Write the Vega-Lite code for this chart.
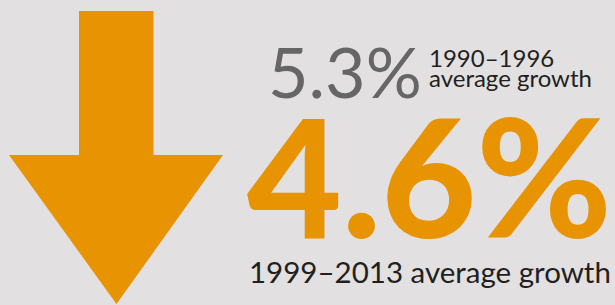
{
  "$schema": "https://vega.github.io/schema/vega-lite/v6.json",
  "width": 615,
  "height": 305,
  "padding": 0,
  "autosize": {"type": "fit", "contains": "padding"},
  "background": "#e2e0e1",
  "config": {"view": {"stroke": null}},
  "layer": [
    {
      "data": {"values": [{"x": 79, "x2": 153.5, "y": 11, "y2": 156}]},
      "mark": {"type": "rect", "color": "#e89302"},
      "encoding": {
        "x": {"field": "x", "type": "quantitative", "scale": {"domain": [0, 615], "nice": false, "zero": false}, "axis": null},
        "x2": {"field": "x2"},
        "y": {"field": "y", "type": "quantitative", "scale": {"domain": [0, 305], "nice": false, "zero": false, "reverse": true}, "axis": null},
        "y2": {"field": "y2"}
      }
    },
    {
      "data": {"values": [
        {"x": 9, "yb": 155, "yt": 155},
        {"x": 116.5, "yb": 304, "yt": 155},
        {"x": 223, "yb": 155, "yt": 155}
      ]},
      "mark": {"type": "area", "color": "#e89302", "interpolate": "linear"},
      "encoding": {
        "x": {"field": "x", "type": "quantitative", "scale": {"domain": [0, 615], "nice": false, "zero": false}, "axis": null},
        "y": {"field": "yb", "type": "quantitative", "scale": {"domain": [0, 305], "nice": false, "zero": false, "reverse": true}, "axis": null, "stack": null},
        "y2": {"field": "yt"}
      }
    },
    {
      "data": {"values": [{"label": "5.3%", "x": 268, "y": 98}]},
      "mark": {"type": "text", "align": "left", "baseline": "alphabetic", "font": "Lato", "fontSize": 70, "fontWeight": 400, "color": "#666666"},
      "encoding": {
        "x": {"field": "x", "type": "quantitative", "scale": {"domain": [0, 615], "nice": false, "zero": false}, "axis": null},
        "y": {"field": "y", "type": "quantitative", "scale": {"domain": [0, 305], "nice": false, "zero": false, "reverse": true}, "axis": null},
        "text": {"field": "label"}
      }
    },
    {
      "data": {"values": [{"label": "1990–1996", "x": 429, "y": 67}, {"label": "average growth", "x": 429, "y": 87}]},
      "mark": {"type": "text", "align": "left", "baseline": "alphabetic", "font": "Lato", "fontSize": 24, "fontWeight": 400, "color": "#231f20"},
      "encoding": {
        "x": {"field": "x", "type": "quantitative", "scale": {"domain": [0, 615], "nice": false, "zero": false}, "axis": null},
        "y": {"field": "y", "type": "quantitative", "scale": {"domain": [0, 305], "nice": false, "zero": false, "reverse": true}, "axis": null},
        "text": {"field": "label"}
      }
    },
    {
      "data": {"values": [{"label": "4.6%", "x": 247, "y": 238}]},
      "mark": {"type": "text", "align": "left", "baseline": "alphabetic", "font": "Lato", "fontSize": 164, "fontWeight": 900, "color": "#e89302"},
      "encoding": {
        "x": {"field": "x", "type": "quantitative", "scale": {"domain": [0, 615], "nice": false, "zero": false}, "axis": null},
        "y": {"field": "y", "type": "quantitative", "scale": {"domain": [0, 305], "nice": false, "zero": false, "reverse": true}, "axis": null},
        "text": {"field": "label"}
      }
    },
    {
      "data": {"values": [{"label": "1999–2013 average growth", "x": 249, "y": 283}]},
      "mark": {"type": "text", "align": "left", "baseline": "alphabetic", "font": "Lato", "fontSize": 29.5, "fontWeight": 400, "color": "#231f20"},
      "encoding": {
        "x": {"field": "x", "type": "quantitative", "scale": {"domain": [0, 615], "nice": false, "zero": false}, "axis": null},
        "y": {"field": "y", "type": "quantitative", "scale": {"domain": [0, 305], "nice": false, "zero": false, "reverse": true}, "axis": null},
        "text": {"field": "label"}
      }
    }
  ]
}
